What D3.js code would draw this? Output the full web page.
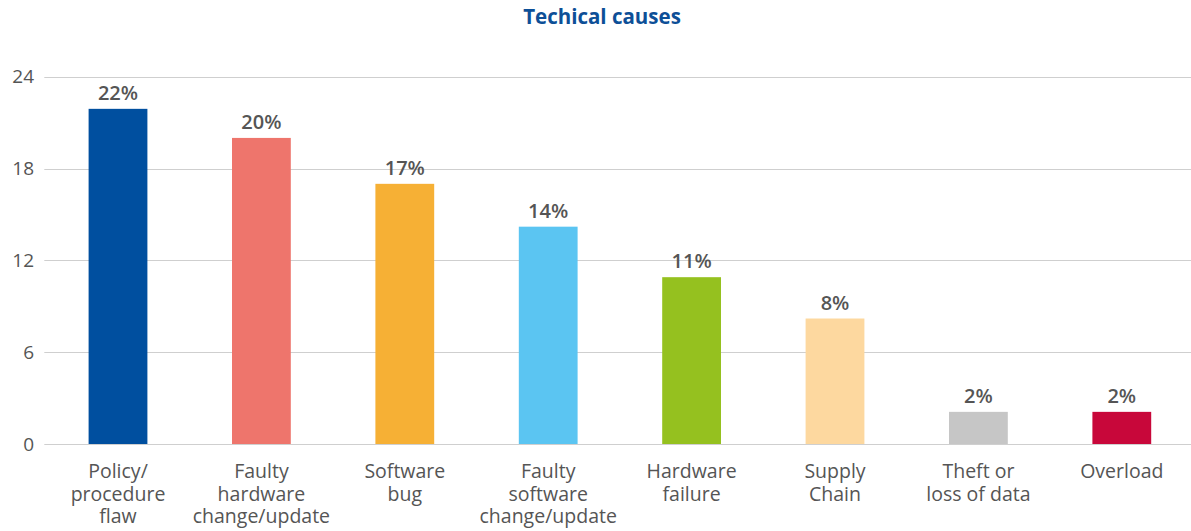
<!DOCTYPE html>
<html>
<head>
<meta charset="utf-8">
<script src="https://cdn.jsdelivr.net/npm/d3@7"></script>
<style>
  html, body { margin: 0; padding: 0; background: #fff; }
  svg { display: block; font-family: "Open Sans", "Noto Sans", sans-serif; }
</style>
</head>
<body>
<svg id="chart" width="1191" height="531"></svg>
<script>
const categories = [
  ["Policy/", "procedure", "flaw"],
  ["Faulty", "hardware", "change/update"],
  ["Software", "bug"],
  ["Faulty", "software", "change/update"],
  ["Hardware", "failure"],
  ["Supply", "Chain"],
  ["Theft or", "loss of data"],
  ["Overload"]
];
const values = [21.9, 20.0, 17.0, 14.2, 10.9, 8.2, 2.1, 2.1];
const valueLabels = ["22%", "20%", "17%", "14%", "11%", "8%", "2%", "2%"];
const colors = ["#004f9f", "#ee756c", "#f6b035", "#5bc5f2", "#95c11f", "#fdd89f", "#c6c6c6", "#c8073a"];
const yTicks = [0, 6, 12, 18, 24];
const title = "Techical causes";

const svg = d3.select("#chart");
const W = 1191;
const x = d3.scaleBand().domain(d3.range(categories.length)).range([46.3, 1193.5]).paddingInner(0.59).paddingOuter(0.295);
const y = d3.scaleLinear().domain([0, 24]).range([444, 76.7]);

svg.append("text")
  .attr("x", 602).attr("y", 24)
  .attr("text-anchor", "middle")
  .attr("fill", "#0d4f97")
  .attr("font-size", 20.5).attr("font-weight", 700)
  .text(title);

const yAxis = d3.axisLeft(y).tickValues(yTicks).tickSize(0).tickPadding(0);
const ga = svg.append("g").attr("transform", "translate(34,0)").call(yAxis);
ga.select(".domain").remove();
ga.selectAll("text").attr("font-size", 19).attr("fill", "#555").attr("font-family", "Open Sans, sans-serif");

svg.append("g").selectAll("line").data(yTicks).join("line")
  .attr("x1", 44.3).attr("x2", W)
  .attr("y1", d => Math.round(y(d)) + 0.5).attr("y2", d => Math.round(y(d)) + 0.5)
  .attr("stroke", "#cfcfcf").attr("stroke-width", 1);

svg.append("g").selectAll("rect").data(values).join("rect")
  .attr("x", (d, i) => x(i)).attr("width", x.bandwidth())
  .attr("y", d => y(d)).attr("height", d => y(0) - y(d))
  .attr("fill", (d, i) => colors[i]);

svg.append("g").selectAll("text").data(values).join("text")
  .attr("x", (d, i) => x(i) + x.bandwidth() / 2)
  .attr("y", d => y(d) - 9)
  .attr("text-anchor", "middle")
  .attr("font-size", 20).attr("font-weight", 600).attr("fill", "#555")
  .text((d, i) => valueLabels[i]);

const xl = svg.append("g").selectAll("text").data(categories).join("text")
  .attr("text-anchor", "middle")
  .attr("font-size", 19.5).attr("fill", "#555")
  .attr("transform", (d, i) => `translate(${x(i) + x.bandwidth() / 2},478)`);
xl.selectAll("tspan").data(d => d).join("tspan")
  .attr("x", 0).attr("y", (d, j) => j * 22.7)
  .text(d => d);
</script>
</body>
</html>
